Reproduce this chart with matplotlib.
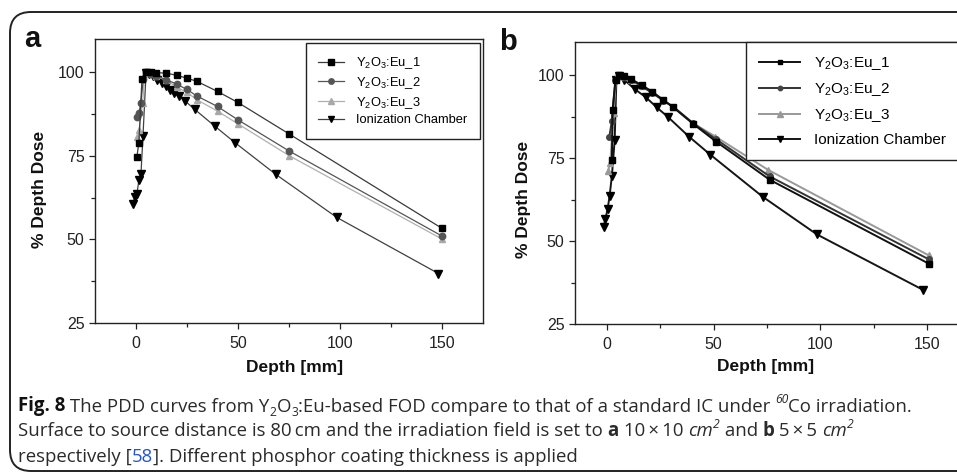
import matplotlib
matplotlib.use("Agg")
import matplotlib.pyplot as plt
from matplotlib.patches import FancyBboxPatch
from matplotlib import font_manager
from matplotlib.ticker import MultipleLocator

# ---------------- data ----------------
# Panel a (10x10 cm2)
a_eu1_x = [0.5, 1.5, 3.0, 5.0, 7.5, 10, 15, 20, 25, 30, 40, 50, 75, 150]
a_eu1_y = [74.7, 79.0, 98.0, 100.0, 100.0, 99.9, 99.8, 99.1, 98.3, 97.3, 94.3, 91.0, 81.6, 53.3]
a_eu2_x = [0.5, 1.5, 2.4, 3.7, 5.0, 7.5, 10, 15, 20, 25, 30, 40, 50, 75, 150]
a_eu2_y = [86.6, 87.8, 90.8, 98.0, 100.0, 99.6, 99.0, 97.8, 96.5, 94.9, 92.9, 89.8, 85.8, 76.5, 51.0]
a_eu3_x = [0.8, 1.6, 3.3, 4.4, 6.0, 8.0, 10, 15, 20, 25, 30, 40, 50, 75, 150]
a_eu3_y = [80.8, 82.8, 90.8, 99.8, 100.0, 99.5, 98.8, 97.6, 95.6, 94.0, 91.8, 88.4, 84.6, 75.1, 50.1]
a_ic_x = [-1.5, -0.5, 0.5, 1.5, 2.5, 3.5, 5.0, 6.5, 8.2, 10.6, 12.6, 14.7, 16.8, 18.8, 21.2, 24.0, 28.9, 38.7, 48.5, 68.5, 98.4, 148.2]
a_ic_y = [60.6, 62.8, 63.5, 67.8, 69.6, 81.0, 99.8, 99.5, 98.8, 97.8, 96.8, 95.8, 94.8, 93.8, 92.8, 91.5, 88.9, 83.9, 79.0, 69.5, 56.6, 39.8]

# Panel b (5x5 cm2)
b_eu1_x = [2.3, 2.6, 4.0, 5.5, 8.0, 11.3, 16.3, 21.3, 26.4, 31.1, 40.4, 51.1, 76.2, 150.8]
b_eu1_y = [74.5, 89.5, 98.5, 100.0, 99.8, 98.8, 97.0, 95.0, 92.5, 90.3, 85.3, 80.0, 68.5, 43.2]
b_eu2_x = [1.1, 2.3, 3.9, 5.5, 8.0, 11.3, 16.3, 21.3, 26.4, 31.1, 40.4, 51.1, 76.2, 150.8]
b_eu2_y = [81.5, 86.3, 98.5, 100.0, 99.6, 98.6, 96.6, 94.6, 92.3, 90.5, 85.5, 80.7, 69.5, 44.5]
b_eu3_x = [0.5, 1.5, 3.1, 4.2, 5.8, 8.3, 11.3, 16.3, 21.3, 26.4, 31.1, 40.4, 50.8, 75.4, 150.8]
b_eu3_y = [71.0, 73.5, 88.5, 99.0, 100.0, 99.6, 98.6, 96.8, 94.8, 92.6, 90.3, 85.5, 81.5, 71.5, 45.7]
b_ic_x = [-1.6, -0.8, 0.3, 1.2, 2.3, 3.6, 4.4, 5.4, 8.2, 13.2, 18.3, 23.3, 28.4, 38.4, 48.5, 73.1, 98.4, 148.1]
b_ic_y = [54.3, 56.5, 59.7, 63.5, 69.7, 80.5, 98.5, 99.7, 98.5, 95.7, 93.3, 90.3, 87.5, 81.5, 76.0, 63.3, 52.0, 35.3]

series_labels = ["Y$_2$O$_3$:Eu_1", "Y$_2$O$_3$:Eu_2", "Y$_2$O$_3$:Eu_3", "Ionization Chamber"]
x_ticks = [0, 50, 100, 150]
y_ticks = [25, 50, 75, 100]
xlabel_text = "Depth [mm]"
ylabel_text = "% Depth Dose"

# ---------------- fonts ----------------
names = {f.name for f in font_manager.fontManager.ttflist}
plot_font = "Liberation Sans" if "Liberation Sans" in names else "DejaVu Sans"
cap_font = "Open Sans" if "Open Sans" in names else plot_font
plt.rcParams['font.family'] = [plot_font, 'DejaVu Sans']
plt.rcParams['mathtext.fontset'] = 'custom'
plt.rcParams['mathtext.rm'] = plot_font
plt.rcParams['mathtext.it'] = plot_font + ':italic'
plt.rcParams['mathtext.bf'] = plot_font + ':bold'

W, H = 957, 474
fig = plt.figure(figsize=(W / 100, H / 100), dpi=100)


def fr(x, y):
    return x / W, 1 - y / H


# outer rounded frame
frame = FancyBboxPatch(fr(10, 471), (1000 - 10) / W, (471 - 12) / H,
                       boxstyle="round,pad=0,rounding_size=0.022",
                       transform=fig.transFigure, fill=False, ec="#222222", lw=1.4,
                       mutation_aspect=W / H, clip_on=False)
fig.patches.append(frame)


def make_axes(left, right, top, bottom):
    x0, y0 = fr(left, bottom)
    return fig.add_axes([x0, y0, (right - left) / W, (bottom - top) / H])


axA = make_axes(95, 483, 39, 323)
axB = make_axes(575, 959, 42, 324)

styles_a = [
    dict(color="#3a3a3a", lw=0.9, marker="s", ms=4.3, mfc="black", mec="black"),
    dict(color="#555555", lw=0.9, marker="o", ms=4.6, mfc="#555555", mec="#555555"),
    dict(color="#b0b0b0", lw=0.9, marker="^", ms=5.0, mfc="#a8a8a8", mec="#a8a8a8"),
    dict(color="#404040", lw=0.9, marker="v", ms=5.5, mfc="black", mec="black"),
]
styles_b = [
    dict(color="#111111", lw=1.4, marker="s", ms=3.8, mfc="black", mec="black"),
    dict(color="#333333", lw=1.4, marker="o", ms=4.0, mfc="#444444", mec="#444444"),
    dict(color="#999999", lw=1.4, marker="^", ms=4.8, mfc="#999999", mec="#999999"),
    dict(color="#151515", lw=1.4, marker="v", ms=5.2, mfc="black", mec="black"),
]

data_a = [(a_eu1_x, a_eu1_y), (a_eu2_x, a_eu2_y), (a_eu3_x, a_eu3_y), (a_ic_x, a_ic_y)]
data_b = [(b_eu1_x, b_eu1_y), (b_eu2_x, b_eu2_y), (b_eu3_x, b_eu3_y), (b_ic_x, b_ic_y)]

order = [2, 1, 0, 3]
all_handles = {}
for key, ax, data, styles, xlim in [("a", axA, data_a, styles_a, (-20, 170)),
                                     ("b", axB, data_b, styles_b, (-15, 165))]:
    handles = [None] * 4
    for i in order:
        x, y = data[i]
        h, = ax.plot(x, y, label=series_labels[i], zorder=3 + (3 - i) * 0.1, **styles[i])
        handles[i] = h
    all_handles[key] = handles
    ax.set_xlim(*xlim)
    ax.set_ylim(25, 110)
    ax.set_xticks(x_ticks)
    ax.set_yticks(y_ticks)
    ax.xaxis.set_minor_locator(MultipleLocator(25))
    ax.yaxis.set_minor_locator(MultipleLocator(12.5))
    ax.tick_params(which='major', direction='out', length=4.5, width=0.9,
                   labelsize=11.5, colors='#222222')
    ax.tick_params(which='minor', direction='out', length=3, width=0.9, colors='#222222')
    ax.tick_params(axis='x', pad=5)
    ax.tick_params(axis='y', pad=3)
    for sp in ax.spines.values():
        sp.set_color('#222222')
        sp.set_linewidth(1.0)
    ax.set_xlabel(xlabel_text, fontsize=12.5, fontweight='bold', color='#111111')
    ax.set_ylabel(ylabel_text, fontsize=12.5, fontweight='bold', color='#111111')
    ax.xaxis.label.set_va('center')
    ax.yaxis.label.set_va('center')

axA.xaxis.set_label_coords(0.515, -0.158)
axA.yaxis.set_label_coords(-0.144, 0.47)
axB.xaxis.set_label_coords(0.496, -0.149)
axB.yaxis.set_label_coords(-0.135, 0.44)

legA = axA.legend(handles=all_handles["a"], loc='upper right',
                  bbox_to_anchor=(1 - 3 / 388, 1 - 4 / 284), borderaxespad=0,
                  fontsize=9.3, frameon=True, fancybox=False, framealpha=1,
                  edgecolor='#222222', handlelength=2.0, handletextpad=0.95,
                  labelspacing=0.3, borderpad=0.95, markerscale=0.85)
legA.get_frame().set_linewidth(1.0)
legB = axB.legend(handles=all_handles["b"], loc='upper right',
                  bbox_to_anchor=(1.0, 1.0), borderaxespad=0,
                  fontsize=11, frameon=True, fancybox=False, framealpha=1,
                  edgecolor='#222222', handlelength=2.7, handletextpad=0.9,
                  labelspacing=0.6, borderpad=0.85, markerscale=0.8)
legB.get_frame().set_linewidth(1.0)

# panel letters
fig.text(*fr(24, 47), "a", fontsize=21, fontweight='bold', ha='left', va='baseline', color='#111111')
fig.text(*fr(499, 50), "b", fontsize=21, fontweight='bold', ha='left', va='baseline', color='#111111')

# ---------------- caption ----------------
renderer = fig.canvas.get_renderer()


def draw_line(pieces, x_px, y_px, size, draw=True):
    """pieces: (text, props) ; props may contain 'shift' (fraction of size, +up) and 'scale'."""
    x = x_px
    made = []
    for txt, props in pieces:
        p = dict(props)
        shift = p.pop('shift', 0.0)
        scale = p.pop('scale', 1.0)
        fs = size * scale
        t = fig.text(x / W, 1 - (y_px - shift * size * 100 / 72) / H, txt,
                     fontsize=fs, family=[cap_font, 'DejaVu Sans'], ha='left',
                     va='baseline', color=p.pop('color', '#2a2a2a'), **p)
        bb = t.get_window_extent(renderer)
        x += bb.width
        made.append(t)
    if not draw:
        for t in made:
            t.remove()
    return x - x_px


N = {}
B = {'fontweight': 'bold'}
I = {'fontstyle': 'italic'}
SUB = {'shift': -0.25, 'scale': 0.65}
SUP_I = {'shift': 0.45, 'scale': 0.65, 'fontstyle': 'italic'}

line1 = [("Fig. 8", {'fontweight': 'bold', 'color': '#111111'}), (" The PDD curves from Y", N), ("2", SUB), ("O", N),
         ("3", SUB), (":Eu-based FOD compare to that of a standard IC under ", N),
         ("60", SUP_I), ("Co irradiation.", N)]
line2 = [("Surface to source distance is 80\u2009cm and the irradiation field is set to ", N),
         ("a", B), (" 10\u2009\u00d7\u200910 ", N), ("cm", I), ("2", SUP_I), (" and ", N),
         ("b", B), (" 5\u2009\u00d7\u20095 ", N), ("cm", I), ("2", SUP_I)]
line3 = [("respectively [", N), ("58", {'color': '#2255cc'}),
         ("]. Different phosphor coating thickness is applied", N)]

base = 12.0
w = draw_line(line1, 18, 411.5, base, draw=False)
size = base * (887.0 / w)
draw_line(line1, 18, 411.5, size)
draw_line(line2, 18, 436.5, size)
draw_line(line3, 18, 461.5, size)

fig.savefig("out.png", dpi=100)
